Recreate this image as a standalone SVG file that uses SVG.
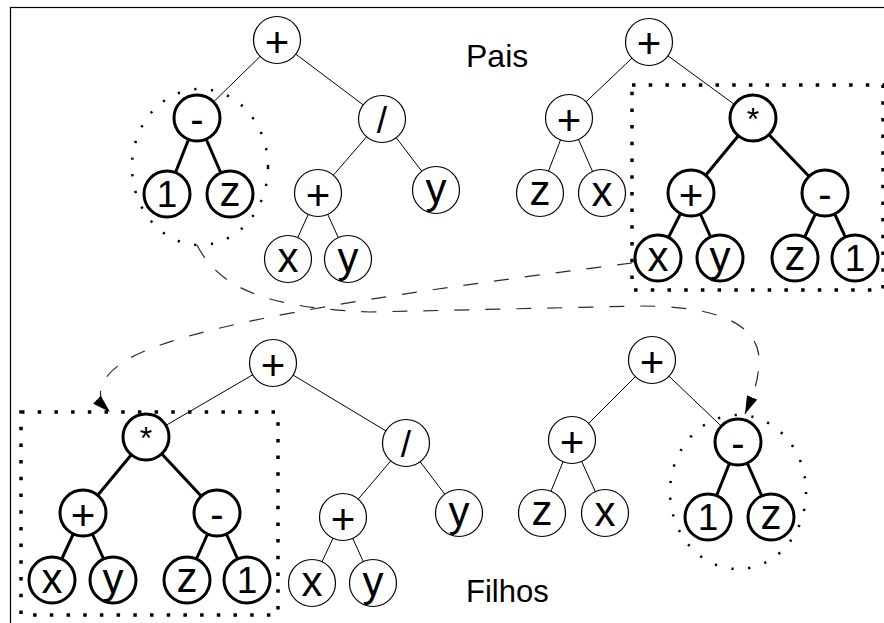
<svg xmlns="http://www.w3.org/2000/svg" width="884" height="623" viewBox="0 0 884 623">
<style>
  text { font-family: "Liberation Sans", Arial, sans-serif; fill: #000; text-anchor: middle; }
  .n circle { fill: #fff; stroke: #000; stroke-width: 1.2; }
  .k circle { fill: #fff; stroke: #000; stroke-width: 3; }
  .e { stroke: #000; stroke-width: 1; fill: none; }
  .ek { stroke: #000; stroke-width: 3; fill: none; }
  .dash { stroke: #2a2a2a; stroke-width: 1.2; fill: none; stroke-dasharray: 15 16; }
  .dotc { fill: none; stroke: #000; stroke-width: 2.5; stroke-dasharray: 2.2 14.7; }
  .dotr { fill: none; stroke: #000; stroke-width: 3.5; stroke-dasharray: 3.5 13.2; }
  .p { font-size: 42px; }
  .m { font-size: 40px; }
  .s { font-size: 37px; }
  .a { font-size: 32px; }
  .l { font-size: 42px; }
  .d { font-size: 37px; }
  .lbl { font-size: 31px; text-anchor: start; }
</style>
<defs>
  <marker id="ah" viewBox="0 0 18 11" refX="18" refY="5.5" markerWidth="18" markerHeight="11" markerUnits="userSpaceOnUse" orient="auto">
    <path d="M0,0 L18,5.5 L0,11 z" fill="#000" stroke="none"/>
  </marker>
</defs>
<rect x="10.5" y="7.5" width="900" height="700" fill="none" stroke="#000" stroke-width="1.2"/>

<g id="connectors">
  <!-- tree 1 (top-left) -->
  <line class="e" x1="277" y1="40" x2="197" y2="118"/>
  <line class="e" x1="277" y1="40" x2="382" y2="119"/>
  <line class="ek" x1="197" y1="118" x2="167" y2="194"/>
  <line class="ek" x1="197" y1="118" x2="230" y2="194"/>
  <line class="e" x1="382" y1="119" x2="318" y2="193"/>
  <line class="e" x1="382" y1="119" x2="436" y2="190"/>
  <line class="e" x1="318" y1="193" x2="288" y2="259"/>
  <line class="e" x1="318" y1="193" x2="348" y2="259"/>
  <!-- tree 2 (top-right) -->
  <line class="e" x1="649" y1="42" x2="569" y2="118"/>
  <line class="e" x1="649" y1="42" x2="753" y2="118"/>
  <line class="e" x1="569" y1="118" x2="540" y2="193"/>
  <line class="e" x1="569" y1="118" x2="602" y2="193"/>
  <line class="ek" x1="753" y1="118" x2="691" y2="193"/>
  <line class="ek" x1="753" y1="118" x2="825" y2="193"/>
  <line class="ek" x1="691" y1="193" x2="658" y2="258"/>
  <line class="ek" x1="691" y1="193" x2="720" y2="258"/>
  <line class="ek" x1="825" y1="193" x2="795" y2="258"/>
  <line class="ek" x1="825" y1="193" x2="855" y2="258"/>
  <!-- tree 3 (bottom-left) -->
  <line class="e" x1="273" y1="363" x2="146" y2="437"/>
  <line class="e" x1="273" y1="363" x2="406" y2="443"/>
  <line class="ek" x1="146" y1="437" x2="83" y2="513"/>
  <line class="ek" x1="146" y1="437" x2="217" y2="513"/>
  <line class="ek" x1="83" y1="513" x2="52" y2="580"/>
  <line class="ek" x1="83" y1="513" x2="113" y2="580"/>
  <line class="ek" x1="217" y1="513" x2="187" y2="580"/>
  <line class="ek" x1="217" y1="513" x2="247" y2="580"/>
  <line class="e" x1="406" y1="443" x2="343" y2="517"/>
  <line class="e" x1="406" y1="443" x2="459" y2="513"/>
  <line class="e" x1="343" y1="517" x2="312" y2="583"/>
  <line class="e" x1="343" y1="517" x2="373" y2="583"/>
  <!-- tree 4 (bottom-right) -->
  <line class="e" x1="652" y1="360" x2="572" y2="440"/>
  <line class="e" x1="652" y1="360" x2="738" y2="442"/>
  <line class="e" x1="572" y1="440" x2="542" y2="513"/>
  <line class="e" x1="572" y1="440" x2="605" y2="513"/>
  <line class="ek" x1="738" y1="442" x2="708" y2="517"/>
  <line class="ek" x1="738" y1="442" x2="771" y2="517"/>
  <!-- crossover arrows -->
  <path class="dash" d="M197,245 C220,290 270,308 370,312 L640,306 C720,306 762,325 759,365 C757,388 751,400 745,414" marker-end="url(#ah)"/>
  <path class="dash" d="M632,263 C420,290 200,320 130,358 C100,375 92,395 110,412" marker-end="url(#ah)"/>
</g>

<!-- tree 1 nodes -->
<g id="t1-root" class="n"><circle cx="277" cy="40" r="23.5"/><text class="p" x="277" y="57">+</text></g>
<g id="t1-minus" class="k"><circle cx="197" cy="118" r="23"/><text class="m" x="197" y="133">-</text></g>
<g id="t1-one" class="k"><circle cx="167" cy="194" r="23"/><text class="d" x="167" y="207">1</text></g>
<g id="t1-z" class="k"><circle cx="230" cy="194" r="23"/><text class="l" x="230" y="206">z</text></g>
<g id="t1-div" class="n"><circle cx="382" cy="119" r="23.5"/><text class="s" x="382" y="133">/</text></g>
<g id="t1-plus" class="n"><circle cx="318" cy="193" r="23.5"/><text class="p" x="318" y="210">+</text></g>
<g id="t1-y1" class="n"><circle cx="436" cy="190" r="23.5"/><text class="l" x="436" y="203">y</text></g>
<g id="t1-x" class="n"><circle cx="288" cy="259" r="23.5"/><text class="l" x="288" y="272">x</text></g>
<g id="t1-y2" class="n"><circle cx="348" cy="259" r="23.5"/><text class="l" x="348" y="272">y</text></g>

<!-- tree 2 nodes -->
<g id="t2-root" class="n"><circle cx="649" cy="42" r="23.5"/><text class="p" x="649" y="58">+</text></g>
<g id="t2-plus" class="n"><circle cx="569" cy="118" r="23.5"/><text class="p" x="569" y="135">+</text></g>
<g id="t2-z" class="n"><circle cx="540" cy="193" r="23.5"/><text class="l" x="540" y="205">z</text></g>
<g id="t2-x" class="n"><circle cx="602" cy="193" r="23.5"/><text class="l" x="602" y="206">x</text></g>
<g id="t2-mul" class="k"><circle cx="753" cy="118" r="23"/><text class="a" x="753" y="130">*</text></g>
<g id="t2-plus2" class="k"><circle cx="691" cy="193" r="23"/><text class="p" x="691" y="210">+</text></g>
<g id="t2-minus" class="k"><circle cx="825" cy="193" r="23"/><text class="m" x="825" y="208">-</text></g>
<g id="t2-x2" class="k"><circle cx="658" cy="258" r="23"/><text class="l" x="658" y="271">x</text></g>
<g id="t2-y" class="k"><circle cx="720" cy="258" r="23"/><text class="l" x="720" y="271">y</text></g>
<g id="t2-z2" class="k"><circle cx="795" cy="258" r="23"/><text class="l" x="795" y="270">z</text></g>
<g id="t2-one" class="k"><circle cx="855" cy="258" r="23"/><text class="d" x="855" y="271">1</text></g>

<!-- tree 3 nodes -->
<g id="t3-root" class="n"><circle cx="273" cy="363" r="23.5"/><text class="p" x="273" y="380">+</text></g>
<g id="t3-mul" class="k"><circle cx="146" cy="437" r="23"/><text class="a" x="146" y="449">*</text></g>
<g id="t3-plus" class="k"><circle cx="83" cy="513" r="23"/><text class="p" x="83" y="530">+</text></g>
<g id="t3-minus" class="k"><circle cx="217" cy="513" r="23"/><text class="m" x="217" y="528">-</text></g>
<g id="t3-x" class="k"><circle cx="52" cy="580" r="23"/><text class="l" x="52" y="593">x</text></g>
<g id="t3-y" class="k"><circle cx="113" cy="580" r="23"/><text class="l" x="113" y="593">y</text></g>
<g id="t3-z" class="k"><circle cx="187" cy="580" r="23"/><text class="l" x="187" y="592">z</text></g>
<g id="t3-one" class="k"><circle cx="247" cy="580" r="23"/><text class="d" x="247" y="593">1</text></g>
<g id="t3-div" class="n"><circle cx="406" cy="443" r="23.5"/><text class="s" x="406" y="457">/</text></g>
<g id="t3-plus2" class="n"><circle cx="343" cy="517" r="23.5"/><text class="p" x="343" y="534">+</text></g>
<g id="t3-x2" class="n"><circle cx="312" cy="583" r="23.5"/><text class="l" x="312" y="596">x</text></g>
<g id="t3-y2" class="n"><circle cx="373" cy="583" r="23.5"/><text class="l" x="373" y="596">y</text></g>
<g id="t3-y3" class="n"><circle cx="459" cy="513" r="23.5"/><text class="l" x="459" y="526">y</text></g>

<!-- tree 4 nodes -->
<g id="t4-root" class="n"><circle cx="652" cy="360" r="23.5"/><text class="p" x="652" y="377">+</text></g>
<g id="t4-plus" class="n"><circle cx="572" cy="440" r="23.5"/><text class="p" x="572" y="457">+</text></g>
<g id="t4-z" class="n"><circle cx="542" cy="513" r="23.5"/><text class="l" x="542" y="525">z</text></g>
<g id="t4-x" class="n"><circle cx="605" cy="513" r="23.5"/><text class="l" x="605" y="526">x</text></g>
<g id="t4-minus" class="k"><circle cx="738" cy="442" r="23"/><text class="m" x="738" y="457">-</text></g>
<g id="t4-one" class="k"><circle cx="708" cy="517" r="23"/><text class="d" x="708" y="530">1</text></g>
<g id="t4-z2" class="k"><circle cx="771" cy="517" r="23"/><text class="l" x="771" y="529">z</text></g>

<g id="highlights">
  <ellipse class="dotc" cx="200" cy="167" rx="68" ry="78"/>
  <rect class="dotr" x="632" y="85" width="251" height="205"/>
  <rect class="dotr" x="21" y="412" width="257" height="203"/>
  <ellipse class="dotc" cx="738" cy="492" rx="68" ry="77"/>
</g>

<g id="labels">
  <text class="lbl" x="466" y="67" style="font-size:32px">Pais</text>
  <text class="lbl" x="466" y="602">Filhos</text>
</g>
</svg>
